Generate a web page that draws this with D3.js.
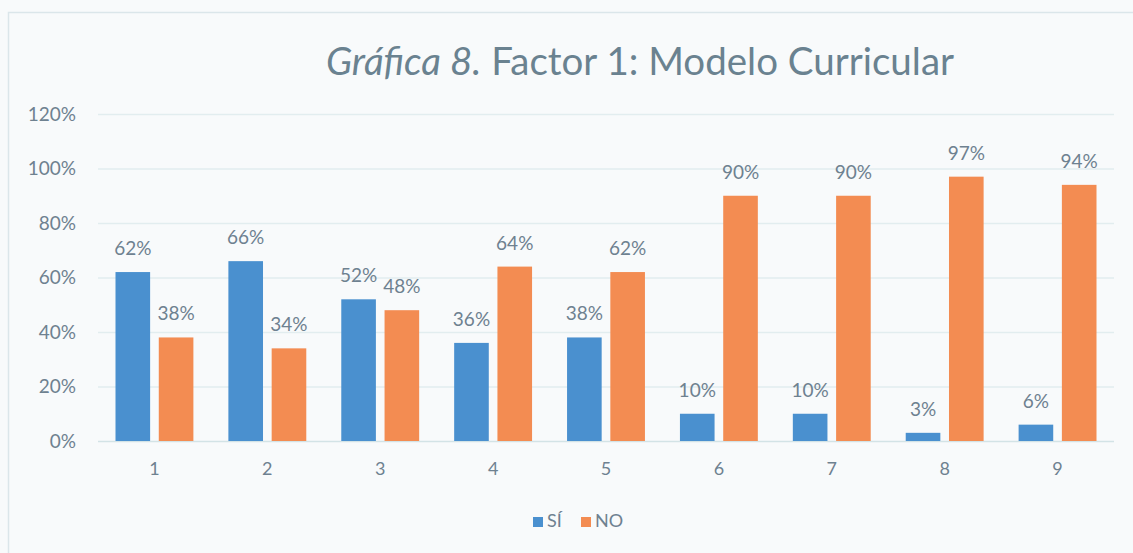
<!DOCTYPE html>
<html><head><meta charset="utf-8">
<script src="https://cdn.jsdelivr.net/npm/d3@7"></script>
<style>
html,body{margin:0;padding:0;background:#f8fafb;}
svg{display:block;font-family:Lato,"Open Sans",sans-serif;}
</style></head>
<body><svg id="c" width="1133" height="553"></svg>
<script>
const categories = ["1","2","3","4","5","6","7","8","9"];
const seriesNames = ["SÍ","NO"];
const si = [62,66,52,36,38,10,10,3,6];
const no = [38,34,48,64,62,90,90,97,94];
const yTicks = [0,20,40,60,80,100,120];
const colors = ["#4a90cf","#f38c52"];
const textColor = "#6e8190";

const svg = d3.select("#c");
svg.append("rect").attr("x",8.5).attr("y",12.5).attr("width",1140).attr("height",560)
  .attr("fill","#f8fafb").attr("stroke","#dbe6ea").attr("stroke-width",1.5);

const x0 = d3.scaleBand().domain(categories).range([98,1114]).paddingInner(0.31).paddingOuter(0.155);
const x1 = d3.scaleBand().domain(seriesNames).range([0,x0.bandwidth()]).paddingInner(0.2);
const y = d3.scaleLinear().domain([0,120]).range([441,114]);

// gridlines
svg.append("g").selectAll("line").data(yTicks).join("line")
  .attr("x1",98).attr("x2",1114).attr("y1",d=>y(d)+0.5).attr("y2",d=>y(d)+0.5)
  .attr("stroke",d=>d===0?"#d3e3e6":"#e2edef").attr("stroke-width",1.3);

// y axis
const yAxis = svg.append("g").attr("transform","translate(98,0)")
  .call(d3.axisLeft(y).tickValues(yTicks).tickFormat(d=>d+"%").tickSize(0).tickPadding(22));
yAxis.select(".domain").remove();
yAxis.selectAll("text").attr("font-size",19).attr("fill",textColor).attr("font-family","Lato,sans-serif");

// x axis
const xAxis = svg.append("g").attr("transform","translate(0,441)")
  .call(d3.axisBottom(x0).tickSize(0).tickPadding(21));
xAxis.select(".domain").remove();
xAxis.selectAll("text").attr("font-size",18).attr("fill",textColor).attr("font-family","Lato,sans-serif");

const data = categories.map((c,i)=>({c, vals:[si[i],no[i]]}));
const groups = svg.append("g").selectAll("g").data(data).join("g")
  .attr("transform",d=>`translate(${x0(d.c)},0)`);
groups.selectAll("rect").data(d=>d.vals.map((v,j)=>({s:seriesNames[j],v,j}))).join("rect")
  .attr("x",d=>x1(d.s)).attr("width",x1.bandwidth())
  .attr("y",d=>y(d.v)).attr("height",d=>y(0)-y(d.v)).attr("fill",d=>colors[d.j]);
groups.selectAll("text").data(d=>d.vals.map((v,j)=>({s:seriesNames[j],v,j}))).join("text")
  .attr("x",d=>x1(d.s)+x1.bandwidth()/2).attr("y",d=>y(d.v)-17)
  .attr("text-anchor","middle").attr("font-size",19).attr("fill",textColor)
  .text(d=>d.v+"%");

// title
const title = svg.append("text").attr("x",640).attr("y",75).attr("text-anchor","middle")
  .attr("font-size",38.5).attr("fill","#6a8290");
title.append("tspan").attr("font-style","italic").text("Gráfica 8.");
title.append("tspan").text(" Factor 1: Modelo Curricular");

// legend
const leg = svg.append("g").attr("transform","translate(533,517)");
const lg = leg.selectAll("g").data(seriesNames).join("g").attr("transform",(d,i)=>`translate(${i*48},0)`);
lg.append("rect").attr("width",10).attr("height",10).attr("fill",(d,i)=>colors[i]);
lg.append("text").attr("x",14).attr("y",10).attr("font-size",18).attr("fill",textColor).text(d=>d);
</script></body></html>
